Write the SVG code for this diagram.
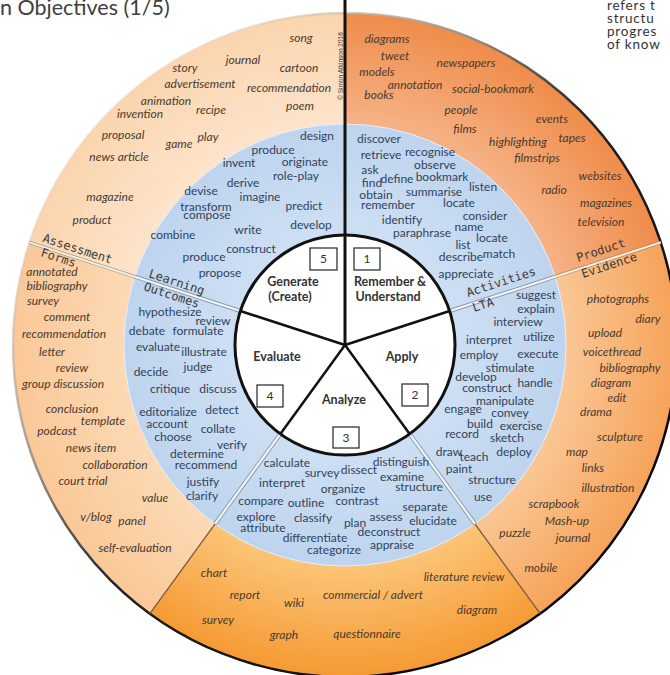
<svg xmlns="http://www.w3.org/2000/svg" width="670" height="675" viewBox="0 0 670 675">
  <defs>
    <style>
      .v { font-family: Lato, "Open Sans", "Liberation Sans", sans-serif; font-size: 12px; fill: #31435a; text-anchor: middle; }
      .p { font-family: Lato, "Open Sans", "Liberation Sans", sans-serif; font-style: italic; font-size: 12px; fill: #4a3a2e; text-anchor: middle; }
      .lvl { font-family: Lato, "Liberation Sans", sans-serif; font-weight: bold; font-size: 12.5px; fill: #333333; text-anchor: middle; }
      .num { font-family: Lato, "Liberation Sans", sans-serif; font-size: 12px; fill: #333333; text-anchor: middle; }
      .box { fill: #ffffff; stroke: #222222; stroke-width: 1.2; }
      .tag { font-family: "DejaVu Sans Mono", "Liberation Mono", monospace; font-size: 12px; fill: #3a3a3a; }
      .note { font-family: Lato, "Liberation Sans", sans-serif; font-size: 13.5px; letter-spacing: 0.8px; fill: #333333; }
      .bl-under { stroke: #8898ac; stroke-width: 4; }
      .bl-over { stroke: #f2f5f9; stroke-width: 2.2; }
      .core-line { stroke: #111111; stroke-width: 2.5; }
    </style>
    <radialGradient id="gTL" gradientUnits="userSpaceOnUse" cx="345" cy="345" r="332">
      <stop offset="0.66" stop-color="#fde4cb"/>
      <stop offset="1" stop-color="#fad5ae"/>
    </radialGradient>
    <radialGradient id="gTR" gradientUnits="userSpaceOnUse" cx="345" cy="345" r="332">
      <stop offset="0.66" stop-color="#f6b387"/>
      <stop offset="1" stop-color="#ef8c4a"/>
    </radialGradient>
    <radialGradient id="gR" gradientUnits="userSpaceOnUse" cx="345" cy="345" r="332">
      <stop offset="0.66" stop-color="#fac795"/>
      <stop offset="1" stop-color="#f6a35a"/>
    </radialGradient>
    <radialGradient id="gB" gradientUnits="userSpaceOnUse" cx="345" cy="345" r="332">
      <stop offset="0.66" stop-color="#fcc578"/>
      <stop offset="1" stop-color="#f59a33"/>
    </radialGradient>
    <radialGradient id="gL" gradientUnits="userSpaceOnUse" cx="345" cy="345" r="332">
      <stop offset="0.66" stop-color="#fcdab5"/>
      <stop offset="1" stop-color="#fac898"/>
    </radialGradient>
    <radialGradient id="gBlue" gradientUnits="userSpaceOnUse" cx="345" cy="345" r="221">
      <stop offset="0.5" stop-color="#cddff3"/>
      <stop offset="1" stop-color="#bed4ee"/>
    </radialGradient>
    <linearGradient id="rim" gradientUnits="userSpaceOnUse" x1="100" y1="100" x2="600" y2="600">
      <stop offset="0" stop-color="#e8dccf" stop-opacity="0.2"/>
      <stop offset="0.3" stop-color="#a09080"/>
      <stop offset="0.5" stop-color="#222222"/>
      <stop offset="1" stop-color="#000000"/>
    </linearGradient>
  </defs>

  <rect width="670" height="675" fill="#ffffff"/>

  <!-- heading and side note -->
  <text x="0" y="15" font-family="Lato, 'Liberation Sans', sans-serif" font-size="21.5" fill="#404040">n Objectives (1/5)</text>
  <g>
    <text class="note" x="607" y="10">refers t</text>
    <text class="note" x="607" y="23">structu</text>
    <text class="note" x="607" y="36">progres</text>
    <text class="note" x="607" y="49">of know</text>
  </g>

  <!-- outer ring: product / assessment sectors -->
  <g id="ring-outer">
    <path d="M345,13 A332,332 0 0 1 660.75,242.41 L555.18,276.71 A221,221 0 0 0 345,124 Z" fill="url(#gTR)"/>
    <path d="M660.75,242.41 A332,332 0 0 1 540.15,613.59 L474.90,523.79 A221,221 0 0 0 555.18,276.71 Z" fill="url(#gR)"/>
    <path d="M540.15,613.59 A332,332 0 0 1 149.85,613.59 L215.10,523.79 A221,221 0 0 0 474.90,523.79 Z" fill="url(#gB)"/>
    <path d="M149.85,613.59 A332,332 0 0 1 29.25,242.41 L134.82,276.71 A221,221 0 0 0 215.10,523.79 Z" fill="url(#gL)"/>
    <path d="M29.25,242.41 A332,332 0 0 1 345,13 L345,124 A221,221 0 0 0 134.82,276.71 Z" fill="url(#gTL)"/>
    <circle cx="345" cy="345" r="332" fill="none" stroke="url(#rim)" stroke-width="2.5"/>
  </g>

  <!-- middle ring: learning outcomes / activities -->
  <g id="ring-middle">
    <circle cx="345" cy="345" r="221" fill="url(#gBlue)" stroke="#e6eef7" stroke-width="1"/>
  </g>

  <!-- sector dividers -->
  <g id="connectors" fill="none" stroke-linecap="butt">
    <line class="bl-under" x1="449.62" y1="311.01" x2="555.18" y2="276.71"/>
    <line class="bl-under" x1="409.66" y1="433.99" x2="474.90" y2="523.79"/>
    <line class="bl-under" x1="280.34" y1="433.99" x2="215.10" y2="523.79"/>
    <line class="bl-under" x1="240.38" y1="311.01" x2="134.82" y2="276.71"/>
    <line class="bl-over" x1="449.62" y1="311.01" x2="555.18" y2="276.71"/>
    <line class="bl-over" x1="409.66" y1="433.99" x2="474.90" y2="523.79"/>
    <line class="bl-over" x1="280.34" y1="433.99" x2="215.10" y2="523.79"/>
    <line class="bl-over" x1="240.38" y1="311.01" x2="134.82" y2="276.71"/>

    <line x1="555.18" y1="276.71" x2="660.75" y2="242.41" stroke="#b08466" stroke-width="3.5"/>
    <line x1="555.18" y1="276.71" x2="660.75" y2="242.41" stroke="#fbf1df" stroke-width="2"/>
    <line x1="134.82" y1="276.71" x2="29.25" y2="242.41" stroke="#a89888" stroke-width="3.5"/>
    <line x1="134.82" y1="276.71" x2="29.25" y2="242.41" stroke="#f4eee8" stroke-width="2"/>
    <line x1="474.90" y1="523.79" x2="540.15" y2="613.59" stroke="#7a5a40" stroke-width="1.3"/>
    <line x1="215.10" y1="523.79" x2="149.85" y2="613.59" stroke="#7a5a40" stroke-width="1.3"/>
  </g>

  <!-- core: five levels -->
  <g id="core">
    <circle cx="345" cy="345" r="110" fill="#ffffff" stroke="#111111" stroke-width="3"/>
    <line class="core-line" x1="345" y1="345" x2="449.62" y2="311.01"/>
    <line class="core-line" x1="345" y1="345" x2="409.66" y2="433.99"/>
    <line class="core-line" x1="345" y1="345" x2="280.34" y2="433.99"/>
    <line class="core-line" x1="345" y1="345" x2="240.38" y2="311.01"/>
    <line x1="345" y1="0" x2="345" y2="346" stroke="#111111" stroke-width="3"/>
  </g>

  <text transform="translate(342.5,66) rotate(-90)" text-anchor="middle" font-family="'Liberation Sans', sans-serif" font-size="6.5" fill="#3a3a3a">© Simon Atkinson 2016</text>

  <!-- ring captions -->
  <g id="ring-labels">
    <text class="tag" x="42" y="241.5" transform="rotate(18 42 241.5)">Assessment</text>
    <text class="tag" x="40" y="256" transform="rotate(18 40 256)">Forms</text>
    <text class="tag" x="148" y="277" transform="rotate(18 148 277)" fill="#3a4658">Learning</text>
    <text class="tag" x="143" y="290" transform="rotate(18 143 290)" fill="#3a4658">Outcomes</text>
    <text class="tag" x="468" y="297" transform="rotate(-18 468 297)" fill="#3a4658">Activities</text>
    <text class="tag" x="474" y="312" transform="rotate(-18 474 312)" fill="#3a4658">LTA</text>
    <text class="tag" x="578" y="262" transform="rotate(-18 578 262)">Product</text>
    <text class="tag" x="583" y="278" transform="rotate(-18 583 278)">Evidence</text>
  </g>

  <!-- level 1 -->
  <g id="remember-understand">
    <rect class="box" x="354" y="248" width="26" height="22"/>
    <text class="num" x="367" y="263">1</text>
    <text class="lvl" x="390" y="286">Remember &amp;</text>
    <text class="lvl" x="388" y="301">Understand</text>
    <text class="v" x="379" y="143">discover</text>
    <text class="v" x="381" y="159">retrieve</text>
    <text class="v" x="430" y="156">recognise</text>
    <text class="v" x="435" y="169">observe</text>
    <text class="v" x="370" y="174">ask</text>
    <text class="v" x="397" y="183">define</text>
    <text class="v" x="442" y="181">bookmark</text>
    <text class="v" x="372" y="187">find</text>
    <text class="v" x="483" y="191">listen</text>
    <text class="v" x="376" y="199">obtain</text>
    <text class="v" x="434" y="196">summarise</text>
    <text class="v" x="388" y="209">remember</text>
    <text class="v" x="459" y="207">locate</text>
    <text class="v" x="402" y="224">identify</text>
    <text class="v" x="485" y="220">consider</text>
    <text class="v" x="422" y="237">paraphrase</text>
    <text class="v" x="469" y="231">name</text>
    <text class="v" x="492" y="242">locate</text>
    <text class="v" x="463" y="249">list</text>
    <text class="v" x="461" y="261">describe</text>
    <text class="v" x="499" y="258">match</text>
    <text class="v" x="466" y="278">appreciate</text>
    <text class="p" x="387" y="43">diagrams</text>
    <text class="p" x="395" y="60">tweet</text>
    <text class="p" x="466" y="67">newspapers</text>
    <text class="p" x="377" y="76">models</text>
    <text class="p" x="415" y="89">annotation</text>
    <text class="p" x="493" y="93">social-bookmark</text>
    <text class="p" x="379" y="99">books</text>
    <text class="p" x="461" y="114">people</text>
    <text class="p" x="552" y="123">events</text>
    <text class="p" x="465" y="133">films</text>
    <text class="p" x="518" y="146">highlighting</text>
    <text class="p" x="572" y="142">tapes</text>
    <text class="p" x="537" y="162">filmstrips</text>
    <text class="p" x="600" y="180">websites</text>
    <text class="p" x="554" y="194">radio</text>
    <text class="p" x="606" y="207">magazines</text>
    <text class="p" x="601" y="226">television</text>
  </g>

  <!-- level 2 -->
  <g id="apply">
    <rect class="box" x="402" y="384" width="26" height="22"/>
    <text class="num" x="415" y="399">2</text>
    <text class="lvl" x="402" y="361">Apply</text>
    <text class="v" x="536" y="299">suggest</text>
    <text class="v" x="536" y="313">explain</text>
    <text class="v" x="518" y="326">interview</text>
    <text class="v" x="489" y="344">interpret</text>
    <text class="v" x="539" y="341">utilize</text>
    <text class="v" x="479" y="359">employ</text>
    <text class="v" x="538" y="358">execute</text>
    <text class="v" x="510" y="372">stimulate</text>
    <text class="v" x="476" y="381">develop</text>
    <text class="v" x="487" y="392">construct</text>
    <text class="v" x="535" y="387">handle</text>
    <text class="v" x="505" y="405">manipulate</text>
    <text class="v" x="463" y="413">engage</text>
    <text class="v" x="510" y="417">convey</text>
    <text class="v" x="480" y="428">build</text>
    <text class="v" x="521" y="430">exercise</text>
    <text class="v" x="462" y="438">record</text>
    <text class="v" x="507" y="442">sketch</text>
    <text class="v" x="449" y="456">draw</text>
    <text class="v" x="474" y="461">teach</text>
    <text class="v" x="514" y="456">deploy</text>
    <text class="v" x="459" y="473">paint</text>
    <text class="v" x="492" y="484">structure</text>
    <text class="v" x="483" y="501">use</text>
    <text class="p" x="618" y="303">photographs</text>
    <text class="p" x="648" y="323">diary</text>
    <text class="p" x="605" y="337">upload</text>
    <text class="p" x="612" y="356">voicethread</text>
    <text class="p" x="630" y="372">bibliography</text>
    <text class="p" x="611" y="387">diagram</text>
    <text class="p" x="617" y="402">edit</text>
    <text class="p" x="596" y="416">drama</text>
    <text class="p" x="620" y="441">sculpture</text>
    <text class="p" x="577" y="456">map</text>
    <text class="p" x="593" y="472">links</text>
    <text class="p" x="608" y="492">illustration</text>
    <text class="p" x="554" y="508">scrapbook</text>
    <text class="p" x="567" y="525">Mash-up</text>
    <text class="p" x="515" y="537">puzzle</text>
    <text class="p" x="573" y="542">journal</text>
    <text class="p" x="541" y="572">mobile</text>
  </g>

  <!-- level 3 -->
  <g id="analyze">
    <rect class="box" x="333" y="427" width="26" height="21"/>
    <text class="num" x="346" y="442">3</text>
    <text class="lvl" x="344" y="404">Analyze</text>
    <text class="v" x="287" y="467">calculate</text>
    <text class="v" x="322" y="477">survey</text>
    <text class="v" x="359" y="474">dissect</text>
    <text class="v" x="401" y="466">distinguish</text>
    <text class="v" x="282" y="487">interpret</text>
    <text class="v" x="402" y="481">examine</text>
    <text class="v" x="343" y="493">organize</text>
    <text class="v" x="419" y="491">structure</text>
    <text class="v" x="261" y="505">compare</text>
    <text class="v" x="306" y="507">outline</text>
    <text class="v" x="357" y="505">contrast</text>
    <text class="v" x="425" y="511">separate</text>
    <text class="v" x="256" y="521">explore</text>
    <text class="v" x="313" y="522">classify</text>
    <text class="v" x="355" y="527">plan</text>
    <text class="v" x="386" y="521">assess</text>
    <text class="v" x="433" y="525">elucidate</text>
    <text class="v" x="263" y="532">attribute</text>
    <text class="v" x="389" y="536">deconstruct</text>
    <text class="v" x="315" y="542">differentiate</text>
    <text class="v" x="334" y="554">categorize</text>
    <text class="v" x="392" y="549">appraise</text>
    <text class="p" x="214" y="577">chart</text>
    <text class="p" x="245" y="599">report</text>
    <text class="p" x="294" y="607">wiki</text>
    <text class="p" x="218" y="624">survey</text>
    <text class="p" x="284" y="639">graph</text>
    <text class="p" x="367" y="638">questionnaire</text>
    <text class="p" x="373" y="599">commercial / advert</text>
    <text class="p" x="464" y="581">literature review</text>
    <text class="p" x="477" y="614">diagram</text>
  </g>

  <!-- level 4 -->
  <g id="evaluate">
    <rect class="box" x="257" y="385" width="26" height="22"/>
    <text class="num" x="270" y="400">4</text>
    <text class="lvl" x="277" y="361">Evaluate</text>
    <text class="v" x="170" y="316">hypothesize</text>
    <text class="v" x="213" y="325">review</text>
    <text class="v" x="147" y="335">debate</text>
    <text class="v" x="198" y="335">formulate</text>
    <text class="v" x="158" y="351">evaluate</text>
    <text class="v" x="204" y="356">illustrate</text>
    <text class="v" x="151" y="376">decide</text>
    <text class="v" x="198" y="371">judge</text>
    <text class="v" x="170" y="393">critique</text>
    <text class="v" x="218" y="393">discuss</text>
    <text class="v" x="168" y="416">editorialize</text>
    <text class="v" x="222" y="414">detect</text>
    <text class="v" x="167" y="428">account</text>
    <text class="v" x="218" y="433">collate</text>
    <text class="v" x="173" y="441">choose</text>
    <text class="v" x="232" y="449">verify</text>
    <text class="v" x="197" y="458">determine</text>
    <text class="v" x="206" y="469">recommend</text>
    <text class="v" x="203" y="486">justify</text>
    <text class="v" x="202" y="500">clarify</text>
    <text class="p" x="52" y="276">annotated</text>
    <text class="p" x="57" y="290">bibliography</text>
    <text class="p" x="43" y="305">survey</text>
    <text class="p" x="67" y="321">comment</text>
    <text class="p" x="64" y="338">recommendation</text>
    <text class="p" x="52" y="356">letter</text>
    <text class="p" x="72" y="372">review</text>
    <text class="p" x="63" y="388">group discussion</text>
    <text class="p" x="72" y="413">conclusion</text>
    <text class="p" x="103" y="425">template</text>
    <text class="p" x="57" y="435">podcast</text>
    <text class="p" x="91" y="452">news item</text>
    <text class="p" x="115" y="469">collaboration</text>
    <text class="p" x="83" y="485">court trial</text>
    <text class="p" x="155" y="502">value</text>
    <text class="p" x="96" y="521">v/blog</text>
    <text class="p" x="132" y="525">panel</text>
    <text class="p" x="135" y="552">self-evaluation</text>
  </g>

  <!-- level 5 -->
  <g id="generate-create">
    <rect class="box" x="310" y="248" width="27" height="22"/>
    <text class="num" x="323.5" y="263">5</text>
    <text class="lvl" x="293" y="286">Generate</text>
    <text class="lvl" x="290" y="301">(Create)</text>
    <text class="v" x="317" y="140">design</text>
    <text class="v" x="273" y="154">produce</text>
    <text class="v" x="239" y="167">invent</text>
    <text class="v" x="305" y="166">originate</text>
    <text class="v" x="296" y="180">role-play</text>
    <text class="v" x="243" y="187">derive</text>
    <text class="v" x="201" y="195">devise</text>
    <text class="v" x="260" y="201">imagine</text>
    <text class="v" x="206" y="211">transform</text>
    <text class="v" x="207" y="219">compose</text>
    <text class="v" x="304" y="210">predict</text>
    <text class="v" x="311" y="229">develop</text>
    <text class="v" x="248" y="234">write</text>
    <text class="v" x="173" y="239">combine</text>
    <text class="v" x="251" y="253">construct</text>
    <text class="v" x="204" y="261">produce</text>
    <text class="v" x="220" y="277">propose</text>
    <text class="p" x="301" y="42">song</text>
    <text class="p" x="243" y="64">journal</text>
    <text class="p" x="185" y="72">story</text>
    <text class="p" x="299" y="72">cartoon</text>
    <text class="p" x="200" y="88">advertisement</text>
    <text class="p" x="289" y="92">recommendation</text>
    <text class="p" x="166" y="105">animation</text>
    <text class="p" x="140" y="118">invention</text>
    <text class="p" x="211" y="114">recipe</text>
    <text class="p" x="300" y="110">poem</text>
    <text class="p" x="123" y="139">proposal</text>
    <text class="p" x="179" y="148">game</text>
    <text class="p" x="208" y="141">play</text>
    <text class="p" x="119" y="161">news article</text>
    <text class="p" x="110" y="201">magazine</text>
    <text class="p" x="92" y="224">product</text>
  </g>
</svg>
